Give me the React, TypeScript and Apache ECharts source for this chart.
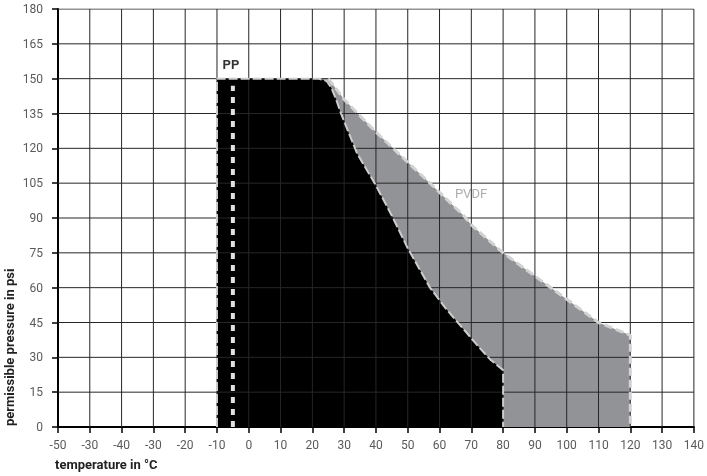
import React, { useEffect, useRef } from "react";
import * as echarts from "echarts";

// x tick labels as printed on the reference (first labels are as printed)
const xTickLabels = ["-50", "-30", "-40", "-30", "-20", "-10", "0", "10", "20", "30", "40", "50", "60", "70", "80", "90", "100", "110", "120", "130", "140"];
const xMin = -60;
const xStep = 10;
const yTickValues = [0, 15, 30, 45, 60, 75, 90, 105, 120, 135, 150, 165, 180];

// PP (black) region outline: temperature °C / pressure psi
const ppTemps = [-10, -10, 22, 24.5, 26, 27.5, 29, 34, 40, 45, 50, 57, 62, 67, 72, 76, 80, 80];
const ppPressures = [0, 150, 150, 149, 146, 141, 135, 118, 104, 91, 77, 60, 51, 43, 35, 29, 24.5, 0];

// PVDF (grey) region outline
const pvdfTemps = [-10, -10, 25, 27, 30, 40, 50, 57, 60, 67.6, 70, 80, 90, 95, 100, 110, 120, 120];
const pvdfPressures = [0, 150, 150, 146.5, 141, 127, 114, 105, 101, 91, 87, 75, 65, 60, 55, 45, 39.5, 0];

// white dashed marker line inside PP
const markerTemps = [-5, -5];
const markerPressures = [0, 147];

// region labels
const labelNames = ["PP", "PVDF"];
const labelTemps = [-5.6, 69.9];
const labelPressures = [155.9, 100.4];

const zip = (a: number[], b: number[]) => a.map((v, i) => [v, b[i]]);

export default function App() {
  const ref = useRef<HTMLDivElement>(null);
  useEffect(() => {
    if (!ref.current) return;
    const chart = echarts.init(ref.current, undefined, { renderer: "svg" });
    const font = "Roboto";
    const pp = zip(ppTemps, ppPressures);
    const pvdf = zip(pvdfTemps, pvdfPressures);
    const gridColor = "#262626";
    const xTickValues = xTickLabels.map((_, i) => xMin + i * xStep);
    const gridLines = [
      ...xTickValues.slice(1).map((v) => [[v, 0], [v, 180]]),
      ...yTickValues.slice(1).map((v) => [[xMin, v], [140, v]]),
    ];
    chart.setOption({
      animation: false,
      textStyle: { fontFamily: font },
      grid: { left: 58, right: 8, top: 9, bottom: 49, containLabel: false },
      xAxis: {
        type: "value",
        min: xMin,
        max: 140,
        interval: xStep,
        axisLine: { show: true, onZero: false, lineStyle: { color: "#000", width: 2 } },
        axisTick: { show: true, length: 6, lineStyle: { color: "#000", width: 1.5 } },
        axisLabel: {
          color: "#5a5a5a",
          fontSize: 12,
          fontFamily: font,
          margin: 12,
          showMaxLabel: true,
          showMinLabel: true,
          formatter: (v: number) => xTickLabels[Math.round((v - xMin) / xStep)] ?? "",
        },
        splitLine: { show: false },
      },
      yAxis: {
        type: "value",
        min: 0,
        max: 180,
        interval: 15,
        axisLine: { show: true, onZero: false, lineStyle: { color: "#000", width: 2 } },
        axisTick: { show: true, length: 6, lineStyle: { color: "#000", width: 1.5 } },
        axisLabel: { color: "#5a5a5a", fontSize: 12, fontFamily: font, margin: 15 },
        splitLine: { show: false },
      },
      graphic: [
        {
          type: "text",
          left: 55,
          top: 458,
          style: { text: "temperature in °C", font: `bold 13px ${font}`, fill: "#222" },
        },
        {
          type: "text",
          x: 3,
          y: 426,
          rotation: Math.PI / 2,
          style: {
            text: "permissible pressure in psi",
            font: `bold 13px ${font}`,
            fill: "#222",
            align: "left",
            verticalAlign: "top",
          },
        },
      ],
      series: [
        {
          type: "line",
          data: pvdf,
          symbol: "none",
          lineStyle: { width: 0 },
          areaStyle: { color: "#929396", opacity: 1 },
        },
        {
          type: "line",
          data: pp,
          symbol: "none",
          lineStyle: { width: 0 },
          areaStyle: { color: "#000", opacity: 1 },
        },
        // grid lines, drawn after the filled regions
        ...gridLines.map((seg) => ({
          type: "line",
          data: seg,
          symbol: "none",
          silent: true,
          lineStyle: { color: gridColor, width: 1 },
        })),
        {
          type: "line",
          data: pvdf.slice(2),
          symbol: "none",
          lineStyle: { color: "#d2d2d2", width: 3, type: [8, 4] },
        },
        {
          type: "line",
          data: pp,
          symbol: "none",
          lineStyle: { color: "#cdcdcd", width: 2, type: [9, 3] },
        },
        {
          type: "line",
          data: zip(markerTemps, markerPressures),
          symbol: "none",
          lineStyle: { color: "#e2e2e2", width: 4, type: [6, 6] },
        },
        {
          type: "scatter",
          data: labelNames.map((n, i) => ({
            name: n,
            value: [labelTemps[i], labelPressures[i]],
            label: n === "PP" ? { color: "#000", fontWeight: "bold" } : { color: "#999", fontWeight: "normal" },
          })),
          symbolSize: 1,
          itemStyle: { color: "transparent" },
          label: {
            show: true,
            position: "inside",
            formatter: (p: any) => p.name,
            fontFamily: font,
            fontSize: 13,
          },
        },
      ],
    });
    return () => chart.dispose();
  }, []);
  return <div ref={ref} style={{ position: "fixed", left: 0, top: 0, width: 707, height: 476 }} />;
}
